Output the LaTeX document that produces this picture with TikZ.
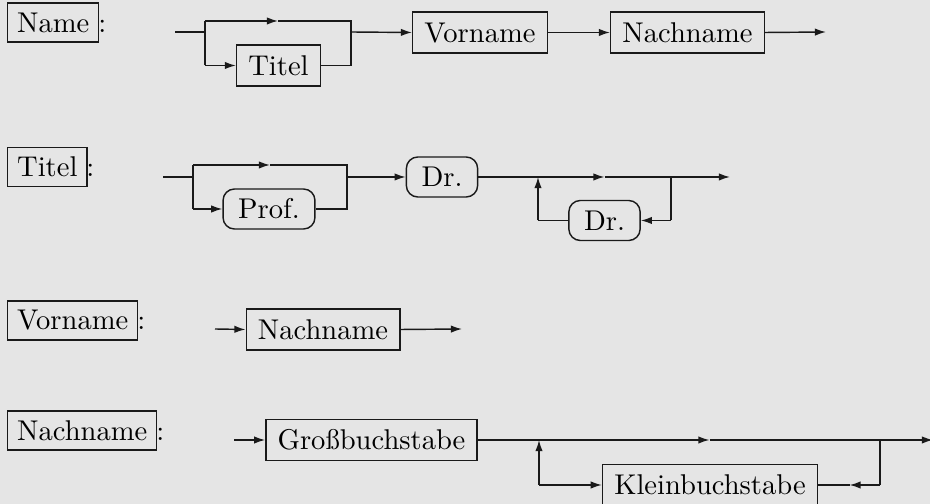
\documentclass[tikz,border=0pt]{standalone}
\usetikzlibrary{arrows.meta}
\definecolor{bgcol}{HTML}{E5E5E5}
\definecolor{linecol}{HTML}{1A1A1A}
\tikzset{
  lbl/.style={draw=linecol, line width=0.5pt, inner sep=3.3pt, anchor=west},
  colon/.style={anchor=base west, inner sep=0pt},
  term/.style={draw=linecol, line width=0.5pt, minimum height=14.35pt, inner xsep=4.1pt, inner ysep=0pt, text height=6.9pt, text depth=0pt},
  rterm/.style={term, rounded corners=4pt, inner xsep=5.3pt, minimum height=14pt},
  con/.style={draw=linecol, line width=0.5pt},
  arr/.style={con, -{Latex[length=3.9pt,width=2.6pt]}},
}
\begin{document}
\begin{tikzpicture}[x=0.35pt, y=-0.35pt]
\fill[bgcol] (0,0) rectangle (930,504);
\useasboundingbox (0,0) rectangle (930,504);
\clip (0,0) rectangle (930,504);

% ---------- Row 1: Name ----------
\node[lbl] (lName) at (7,22.5) {Name};
\node[colon] (cName) at ([xshift=-0.6pt]lName.base east) {:};
\node[term] (titel1) at (278.5,65.5) {Titel};
\node[term] (vorn1) at (480,32.5) {Vorname};
\node[term] (nach1) at (687.5,32.5) {Nachname};
\coordinate (s1) at (175,32);
\coordinate (j1) at (205,32);
\coordinate (j1t) at (205,21);
\coordinate (j1b) at (205,65.5);
\coordinate (m1) at (278,21);
\coordinate (k1t) at (351,21);
\coordinate (k1b) at (351,65.5);
\coordinate (k1) at (351,32);
\coordinate (e1) at (826,32);
\draw[con] (s1) -- (j1);
\draw[con] (j1b) -- (j1t);
\draw[arr] (j1t) -- (m1);
\draw[con] (m1) -- (k1t) -- (k1b) -- (titel1.east);
\draw[arr] (j1b) -- (titel1.west);
\draw[arr] (k1) -- (vorn1.west);
\draw[arr] (vorn1.east) -- (nach1.west);
\draw[arr] (nach1.east) -- (e1);

% ---------- Row 2: Titel ----------
\node[lbl] (lTitel) at (7,167) {Titel};
\node[colon] (cTitel) at ([xshift=-0.6pt]lTitel.base east) {:};
\node[rterm] (prof) at (269,209) {Prof.};
\node[rterm] (dr1) at (442,177) {Dr.};
\node[rterm] (dr2) at (604.5,220.5) {Dr.};
\coordinate (s2) at (163,177);
\coordinate (j2) at (193,177);
\coordinate (j2t) at (193,165);
\coordinate (j2b) at (193,209);
\coordinate (m2) at (270,165);
\coordinate (k2t) at (347,165);
\coordinate (k2b) at (347,209);
\coordinate (k2) at (347,177);
\coordinate (l2t) at (538,177);
\coordinate (l2b) at (538,220.5);
\coordinate (m2b) at (604.5,177);
\coordinate (r2t) at (671,177);
\coordinate (r2b) at (671,220.5);
\coordinate (e2) at (730,177);
\draw[con] (s2) -- (j2);
\draw[con] (j2b) -- (j2t);
\draw[arr] (j2t) -- (m2);
\draw[con] (m2) -- (k2t) -- (k2b) -- (prof.east);
\draw[arr] (j2b) -- (prof.west);
\draw[arr] (k2) -- (dr1.west);
\draw[con] (dr1.east) -- (l2t);
\draw[arr] (l2t) -- (m2b);
\draw[arr] (m2b) -- (e2);
\draw[con] (r2t) -- (r2b);
\draw[arr] (r2b) -- (dr2.east);
\draw[con] (dr2.west) -- (l2b);
\draw[arr] (l2b) -- (l2t);

% ---------- Row 3: Vorname ----------
\node[lbl] (lVorn) at (7,320.5) {Vorname};
\node[colon] (cVorn) at ([xshift=-0.6pt]lVorn.base east) {:};
\node[term] (nach3) at (323,329.5) {Nachname};
\coordinate (s3) at (215,329);
\coordinate (e3) at (462,329);
\draw[arr] (s3) -- (nach3.west);
\draw[arr] (nach3.east) -- (e3);

% ---------- Row 4: Nachname ----------
\node[lbl] (lNach) at (7,430.5) {Nachname};
\node[colon] (cNach) at ([xshift=-0.6pt]lNach.base east) {:};
\node[term] (gross) at (371.5,440) {Großbuchstabe};
\node[term] (klein) at (710,485) {Kleinbuchstabe};
\coordinate (s4) at (234,440);
\coordinate (l4t) at (539,440);
\coordinate (l4b) at (539,485);
\coordinate (m4) at (709.5,440);
\coordinate (r4t) at (880,440);
\coordinate (r4b) at (880,485);
\coordinate (m4b) at (849.5,485);
\coordinate (e4) at (933,440);
\draw[arr] (s4) -- (gross.west);
\draw[con] (gross.east) -- (l4t);
\draw[arr] (l4t) -- (m4);
\draw[arr] (m4) -- (e4);
\draw[con] (r4t) -- (r4b);
\draw[arr] (r4b) -- (m4b);
\draw[con] (m4b) -- (klein.east);
\draw[arr] (l4b) -- (klein.west);
\draw[arr] (l4b) -- (l4t);
\end{tikzpicture}
\end{document}
